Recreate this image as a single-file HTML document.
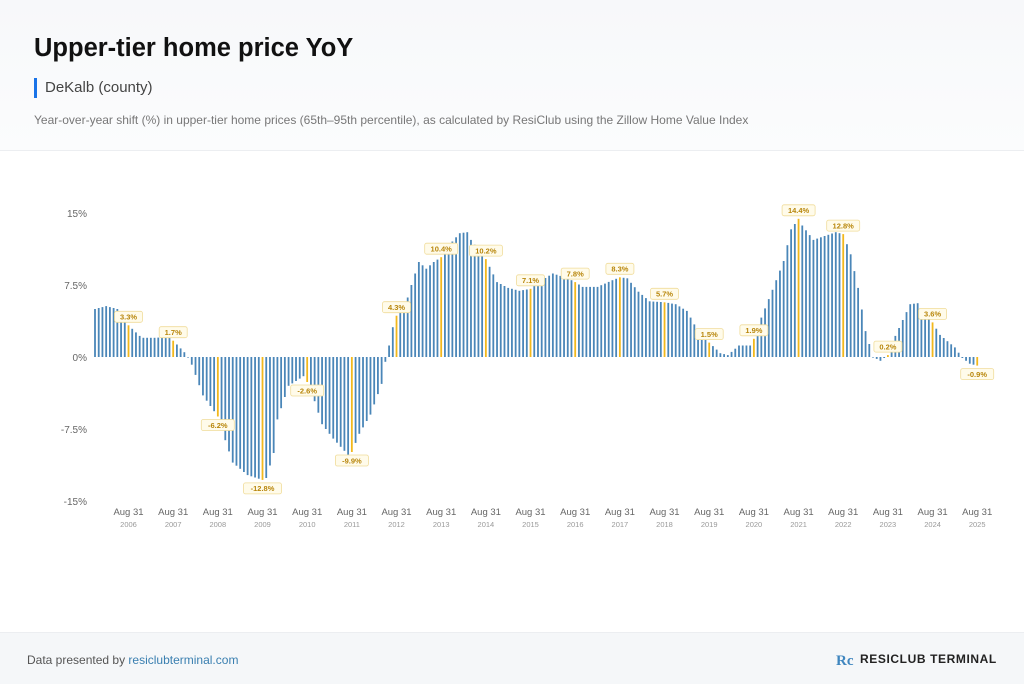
<!DOCTYPE html>
<html><head><meta charset="utf-8"><style>
body{margin:0;width:1024px;height:683px;overflow:hidden;background:#fff;font-family:"Liberation Sans",sans-serif;position:relative}
.hdr{position:absolute;left:0;top:0;width:1024px;height:150px;background:linear-gradient(#f7f8fa,#fbfcfd);border-bottom:1px solid #eceef1}
h1{position:absolute;left:34px;top:34px;margin:0;font-size:25.5px;font-weight:bold;color:#111}
.sub{position:absolute;left:34px;top:78px;height:20px;border-left:3px solid #1a73e8;padding-left:8px;font-size:15px;color:#444;line-height:20px}
.desc{position:absolute;left:34px;top:113px;font-size:12px;color:#777}
.ftr{position:absolute;left:0;top:632px;width:1024px;height:51px;background:#f5f7f9;border-top:1px solid #eceef1}
.ftr .l{position:absolute;left:27px;top:20px;font-size:12px;color:#555}
.ftr .l span{color:#3a7fb0}
.ftr .r{position:absolute;left:860px;top:19px;font-size:12px;font-weight:bold;color:#222;letter-spacing:0.6px}
svg{position:absolute;left:0;top:0}
</style></head><body>
<div class="hdr"></div>
<h1>Upper-tier home price YoY</h1>
<div class="sub">DeKalb (county)</div>
<div class="desc">Year-over-year shift (%) in upper-tier home prices (65th–95th percentile), as calculated by ResiClub using the Zillow Home Value Index</div>
<svg id="c" width="1024" height="683"></svg>
<div class="ftr"><div class="l">Data presented by <span>resiclubterminal.com</span></div>
<svg width="20" height="20" style="left:836px;top:17px"><text x="0" y="15" font-size="15" font-weight="bold" fill="#3f86bf" font-family="Liberation Serif">Rc</text></svg>
<div class="r">RESICLUB TERMINAL</div></div>
<script>
var k=[[0,5.0],[3,5.3],[6,5.0],[7,3.9],[9,3.3],[12,2.2],[13,2.0],[16,2.0],[20,2.1],[21,1.7],[24,0.5],[25,0],[26,-0.8],[29,-4],[33,-6.2],[34,-7.5],[37,-11],[41,-12.3],[45,-12.8],[46,-12.6],[48,-10],[49,-6.5],[52,-3],[56,-2.0],[57,-2.6],[59,-4.6],[61,-7.0],[64,-8.5],[68,-10.2],[69,-9.9],[71,-8],[74,-6],[77,-2.8],[78,-0.5],[79,1.2],[80,3.1],[81,4.3],[82,4.8],[83,4.9],[85,7.5],[87,9.9],[89,9.2],[91,9.9],[93,10.4],[95,11.6],[98,12.9],[100,13.0],[101,12.2],[105,10.2],[108,7.8],[111,7.2],[114,6.9],[117,7.1],[120,8.0],[123,8.7],[127,8.2],[129,7.8],[131,7.3],[135,7.3],[139,8.0],[141,8.3],[143,8.2],[146,6.8],[149,5.8],[153,5.7],[156,5.5],[159,4.8],[161,3.4],[162,2.6],[165,1.5],[168,0.4],[170,0.2],[173,1.2],[176,1.2],[177,1.9],[179,4.1],[182,7.0],[185,10.0],[187,13.3],[189,14.4],[190,13.7],[193,12.2],[199,13.0],[201,12.8],[203,10.7],[205,7.2],[207,2.7],[209,0.0],[211,-0.4],[213,0.2],[215,2.2],[219,5.5],[221,5.6],[225,3.6],[227,2.3],[231,1.0],[233,-0.1],[235,-0.7],[237,-0.9]];
function v(i){for(var j=0;j<k.length-1;j++){if(i>=k[j][0]&&i<=k[j+1][0]){var t=(i-k[j][0])/(k[j+1][0]-k[j][0]);return k[j][1]+t*(k[j+1][1]-k[j][1]);}}return k[k.length-1][1];}
var s='',y0=357,sc=9.6,x0=95,dx=3.7225;
[[15,'15%'],[7.5,'7.5%'],[0,'0%'],[-7.5,'-7.5%'],[-15,'-15%']].forEach(function(a){s+='<text x="87" y="'+(y0-a[0]*sc+4)+'" text-anchor="end" font-size="10" fill="#666">'+a[1]+'</text>';});
var labs='';
for(var i=0;i<238;i++){var x=x0+i*dx,val=v(i),h=val*sc,aug=(i-9)%12==0;
var y=h>=0?y0-h:y0,hh=Math.max(Math.abs(h),0.6);
s+='<rect x="'+(x-0.9).toFixed(2)+'" y="'+y.toFixed(1)+'" width="1.8" height="'+hh.toFixed(1)+'" fill="'+(aug?'#f2b81c':'#4a86b8')+'"/>';
if(aug){var yr=2006+(i-9)/12;
s+='<text x="'+x.toFixed(1)+'" y="515" text-anchor="middle" font-size="9.5" fill="#666">Aug 31</text><text x="'+x.toFixed(1)+'" y="527" text-anchor="middle" font-size="7.5" fill="#999">'+yr+'</text>';
var t=val.toFixed(1)+'%',w=t.length*5+8,ly=val>=0?y0-h-14:y0-h+3;
labs+='<rect x="'+(x-w/2).toFixed(1)+'" y="'+ly.toFixed(1)+'" width="'+w+'" height="11" rx="2" fill="#fffbea" stroke="#f0dc9a" stroke-width="0.8"/><text x="'+x.toFixed(1)+'" y="'+(ly+8.3).toFixed(1)+'" text-anchor="middle" font-size="7.5" font-weight="bold" fill="#b8860b">'+t+'</text>';}}
document.getElementById('c').innerHTML=s+labs;
</script>
</body></html>
